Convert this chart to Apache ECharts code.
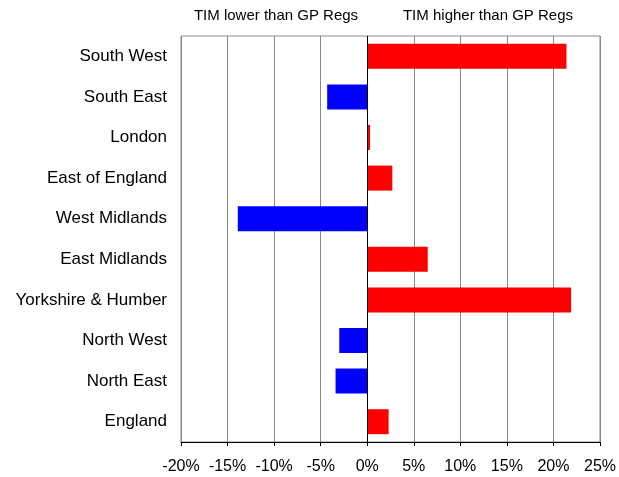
<!DOCTYPE html>
<html>
<head>
<meta charset="utf-8">
<script src="https://cdn.jsdelivr.net/npm/echarts@6/dist/echarts.min.js"></script>
<style>html,body{margin:0;padding:0;background:#fff;}#c{width:619px;height:477px;}</style>
</head>
<body>
<div id="c"></div>
<script>
var categories = ["South West","South East","London","East of England","West Midlands","East Midlands","Yorkshire & Humber","North West","North East","England"];
var values = [21.4, -4.3, 0.3, 2.7, -13.9, 6.5, 21.9, -3.0, -3.4, 2.3];
var leftNote = "TIM lower than GP Regs";
var rightNote = "TIM higher than GP Regs";
var posColor = "#ff0000";
var negColor = "#0000ff";

var chart = echarts.init(document.getElementById('c'));
chart.setOption({
  animation: false,
  backgroundColor: '#fff',
  textStyle: { fontFamily: 'Liberation Sans, Arial, sans-serif' },
  grid: { left: 181, right: 15, top: 36, bottom: 35, show: true, borderColor: '#888', borderWidth: 1, backgroundColor: 'transparent' },
  graphic: [
    { type: 'text', style: { text: leftNote, x: 276, y: 16, textAlign: 'center', textVerticalAlign: 'middle', font: '15px "Liberation Sans", Arial, sans-serif', fill: '#000' } },
    { type: 'text', style: { text: rightNote, x: 488, y: 16, textAlign: 'center', textVerticalAlign: 'middle', font: '15px "Liberation Sans", Arial, sans-serif', fill: '#000' } }
  ],
  xAxis: {
    type: 'value', min: -20, max: 25, interval: 5,
    axisLine: { show: true, onZero: false, lineStyle: { color: '#000', width: 1 } },
    axisTick: { show: true, length: 4, lineStyle: { color: '#000' } },
    axisLabel: { formatter: '{value}%', color: '#000', fontSize: 16, margin: 17, fontFamily: 'Liberation Sans' },
    splitLine: { show: true, lineStyle: { color: '#888', width: 1 } }
  },
  yAxis: {
    type: 'category', data: categories, inverse: true,
    axisLine: { show: false },
    axisTick: { show: false },
    axisLabel: { color: '#000', fontSize: 17, margin: 14, fontFamily: 'Liberation Sans' },
    splitLine: { show: false }
  },
  series: [{
    type: 'bar', data: values, barWidth: 25,
    itemStyle: { color: function (p) { return p.value < 0 ? negColor : posColor; } },
    markLine: {
      silent: true, symbol: 'none', label: { show: false },
      lineStyle: { color: '#000', width: 1, type: 'solid' },
      data: [{ xAxis: 0 }]
    }
  }]
});
</script>
</body>
</html>
